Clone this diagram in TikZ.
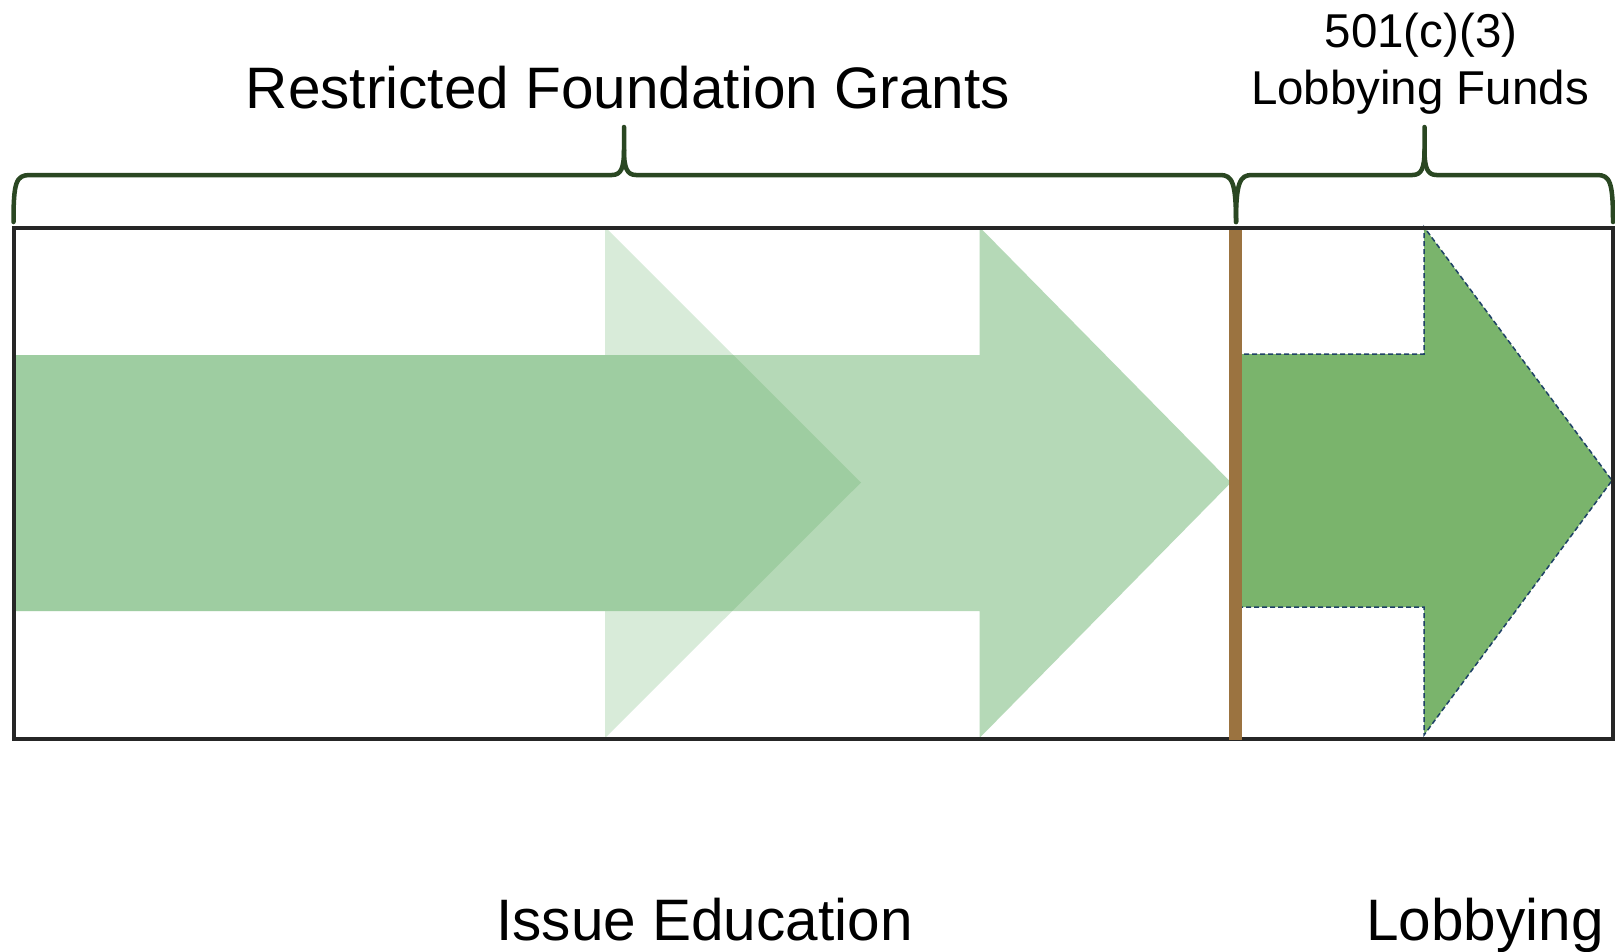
\documentclass[tikz,border=0pt]{standalone}
\usepackage{fontspec}
\setmainfont{Liberation Sans}
\definecolor{boxgray}{HTML}{262626}
\definecolor{bracegreen}{HTML}{2A4722}
\definecolor{barbrown}{HTML}{9B7340}
\definecolor{arrowgreen}{RGB}{80,165,85}
\definecolor{rightgreen}{HTML}{7AB46C}
\definecolor{dashblue}{HTML}{1F4266}
\begin{document}
\begin{tikzpicture}[x=1pt,y=-1pt,
  boxline/.style={draw=boxgray,line width=4pt},
  bracestyle/.style={draw=bracegreen,line width=4.5pt,line cap=round,line join=round},
  lbl/.style={inner sep=0pt,anchor=base,font=\fontsize{58.5}{60}\selectfont},
  smalllbl/.style={inner sep=0pt,anchor=base,font=\fontsize{47.5}{50}\selectfont},
  ghostarrow/.style={fill=arrowgreen,opacity=#1},
  lobbyarrow/.style={fill=rightgreen,draw=dashblue,line width=1.5pt,dash pattern=on 5pt off 3pt}
]
\useasboundingbox (0,0) rectangle (1615,951);
\fill[white] (0,0) rectangle (1615,951);

% translucent arrows
\fill[ghostarrow=0.22] (13.5,355) -- (605,355) -- (605,227) -- (861,482.5) -- (605,738) -- (605,611) -- (13.5,611) -- cycle;
\fill[ghostarrow=0.42] (13.5,355) -- (979.5,355) -- (979.5,227) -- (1231,482.5) -- (979.5,738) -- (979.5,611) -- (13.5,611) -- cycle;

% lobbying arrow
\filldraw[lobbyarrow] (1236,354) -- (1424,354) -- (1424,227) -- (1612,480.5) -- (1424,735) -- (1424,607) -- (1236,607) -- cycle;

% frame
\draw[boxline] (13.5,227.5) rectangle (1613,738.5);

% divider bar
\fill[barbrown] (1229,230) rectangle (1242,740);

% braces
\coordinate (b1l) at (13.5,222);
\coordinate (b1t) at (624,127);
\coordinate (b1r) at (1236,222);
\coordinate (b2t) at (1424.5,127);
\coordinate (b2r) at (1613,222);
\draw[bracestyle] (b1l) .. controls (13.5,182) and (16,175) .. (30,175)
  -- (612,175) .. controls (621,175) and (624,168) .. (624,150) -- (b1t);
\draw[bracestyle] (b1t) ++(0,23) .. controls (624,168) and (627,175) .. (636,175)
  -- (1220,175) .. controls (1232,175) and (1236,182) .. (b1r);
\draw[bracestyle] (b1r) .. controls (1236,182) and (1240,175) .. (1252,175)
  -- (1412.5,175) .. controls (1421.5,175) and (1424.5,168) .. (1424.5,150) -- (b2t);
\draw[bracestyle] (b2t) ++(0,23) .. controls (1424.5,168) and (1427.5,175) .. (1436.5,175)
  -- (1597,175) .. controls (1610,175) and (1613,182) .. (b2r);

% labels
\node[lbl] (rfg) at (628,108) {Restricted Foundation Grants};
\node[smalllbl] (c3) at (1421,47) {501(c)(3)};
\node[smalllbl] (lf) at (1420,104) {Lobbying Funds};
\node[lbl] (ie) at (704.5,940) {Issue Education};
\node[lbl] (lob) at (1485,940) {Lobbying};
\end{tikzpicture}
\end{document}
